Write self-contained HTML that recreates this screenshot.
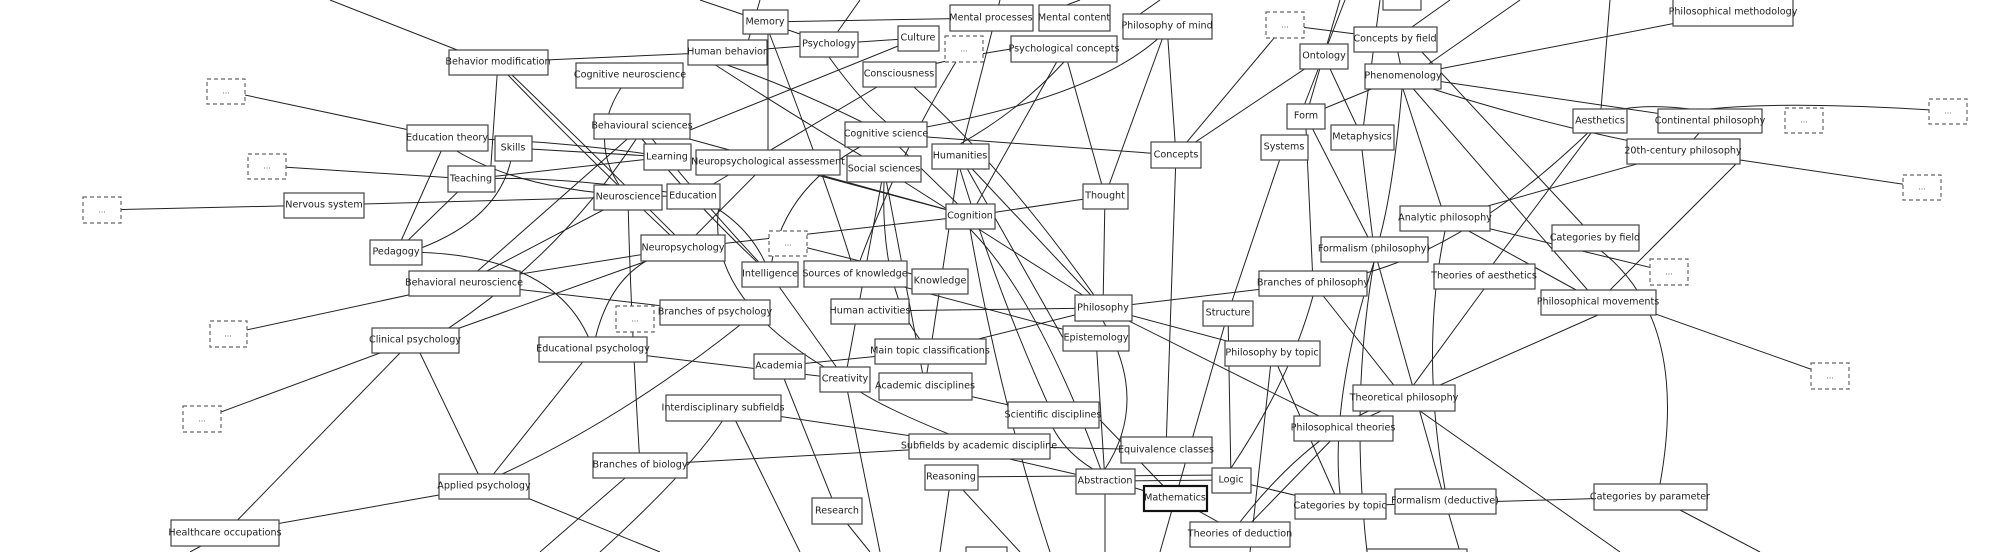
<!DOCTYPE html>
<html><head><meta charset="utf-8"><style>
html,body{margin:0;padding:0;background:#fff;}
svg{display:block}
.e line,.e path{stroke:#222;stroke-width:1;fill:none}
.n rect{fill:#fff;stroke:#444;stroke-width:1.2}
.n text{font-family:"DejaVu Sans","Liberation Sans",sans-serif;font-size:9.6px;fill:#222;text-anchor:middle;dominant-baseline:central}
.d rect{fill:#fff;stroke:#666;stroke-width:1.2;stroke-dasharray:4,3}
.d text{font-family:"DejaVu Sans",sans-serif;font-size:8px;fill:#555;text-anchor:middle;dominant-baseline:central}
</style></head><body>
<svg width="2000" height="552" viewBox="0 0 2000 552" xmlns="http://www.w3.org/2000/svg">
<g class="e">
<line x1="330" y1="0" x2="470" y2="55"/>
<line x1="226" y1="91" x2="447" y2="138"/>
<line x1="267" y1="166" x2="471" y2="179"/>
<line x1="102" y1="210" x2="324" y2="205"/>
<line x1="324" y1="205" x2="628" y2="197"/>
<line x1="498" y1="62" x2="490" y2="179"/>
<path d="M508,75 Q580,150 670,235"/>
<path d="M512,75 Q590,150 680,240"/>
<line x1="727" y1="52" x2="498" y2="62"/>
<line x1="447" y1="138" x2="396" y2="252"/>
<line x1="471" y1="179" x2="396" y2="252"/>
<path d="M513,148 Q505,220 410,252"/>
<line x1="667" y1="157" x2="513" y2="148"/>
<path d="M667,157 Q560,140 447,138"/>
<line x1="667" y1="157" x2="471" y2="179"/>
<path d="M693,196 Q560,175 471,179"/>
<path d="M693,196 Q530,200 447,145"/>
<line x1="628" y1="197" x2="464" y2="283"/>
<line x1="642" y1="126" x2="464" y2="283"/>
<path d="M642,130 Q560,260 430,340"/>
<line x1="464" y1="283" x2="683" y2="248"/>
<line x1="228" y1="334" x2="464" y2="283"/>
<line x1="715" y1="312" x2="464" y2="283"/>
<path d="M396,252 Q560,250 593,349"/>
<line x1="440" y1="335" x2="683" y2="248"/>
<line x1="202" y1="419" x2="380" y2="353"/>
<line x1="225" y1="533" x2="400" y2="353"/>
<line x1="484" y1="486" x2="420" y2="353"/>
<line x1="225" y1="533" x2="439" y2="495"/>
<line x1="484" y1="486" x2="593" y2="349"/>
<path d="M740,325 Q620,420 500,475"/>
<path d="M640,465 Q630,300 628,197"/>
<line x1="540" y1="552" x2="640" y2="465"/>
<path d="M600,552 Q690,470 723,420"/>
<line x1="190" y1="552" x2="225" y2="533"/>
<line x1="660" y1="552" x2="520" y2="495"/>
<path d="M628,197 Q580,140 630,75"/>
<path d="M593,349 Q680,360 845,379"/>
<path d="M593,349 Q610,260 683,248"/>
<line x1="991" y1="18" x2="765" y2="22"/>
<line x1="829" y1="44" x2="727" y2="52"/>
<line x1="829" y1="44" x2="765" y2="22"/>
<line x1="918" y1="38" x2="829" y2="44"/>
<line x1="886" y1="134" x2="1176" y2="155"/>
<line x1="886" y1="134" x2="970" y2="216"/>
<line x1="1105" y1="196" x2="970" y2="216"/>
<line x1="1105" y1="196" x2="1103" y2="308"/>
<line x1="1064" y1="49" x2="1105" y2="196"/>
<line x1="1064" y1="49" x2="970" y2="216"/>
<line x1="960" y1="156" x2="1103" y2="308"/>
<line x1="884" y1="169" x2="1103" y2="308"/>
<line x1="870" y1="311" x2="1103" y2="308"/>
<line x1="1103" y1="308" x2="1313" y2="283"/>
<line x1="1103" y1="308" x2="1272" y2="353"/>
<line x1="1103" y1="308" x2="1343" y2="428"/>
<line x1="1096" y1="338" x2="855" y2="274"/>
<line x1="930" y1="351" x2="1103" y2="308"/>
<line x1="930" y1="351" x2="779" y2="366"/>
<line x1="925" y1="386" x2="1053" y2="415"/>
<line x1="979" y1="446" x2="723" y2="408"/>
<line x1="979" y1="446" x2="640" y2="465"/>
<line x1="1166" y1="450" x2="1176" y2="155"/>
<line x1="1166" y1="450" x2="979" y2="446"/>
<line x1="1105" y1="481" x2="1231" y2="480"/>
<line x1="1105" y1="481" x2="979" y2="452"/>
<line x1="1231" y1="475" x2="951" y2="477"/>
<line x1="1240" y1="534" x2="1175" y2="498"/>
<line x1="1240" y1="534" x2="1343" y2="428"/>
<line x1="1284" y1="147" x2="1228" y2="313"/>
<line x1="1167" y1="26" x2="1176" y2="155"/>
<line x1="1167" y1="26" x2="1105" y2="196"/>
<line x1="837" y1="511" x2="779" y2="366"/>
<line x1="870" y1="552" x2="837" y2="511"/>
<line x1="940" y1="552" x2="951" y2="477"/>
<line x1="1306" y1="116" x2="1374" y2="249"/>
<line x1="1324" y1="56" x2="1176" y2="155"/>
<line x1="1340" y1="506" x2="1231" y2="480"/>
<line x1="1733" y1="12" x2="1403" y2="76"/>
<line x1="1395" y1="39" x2="1403" y2="76"/>
<line x1="1403" y1="76" x2="1710" y2="121"/>
<path d="M1683,151 Q1560,130 1420,85"/>
<line x1="1683" y1="151" x2="1445" y2="218"/>
<line x1="1710" y1="121" x2="1683" y2="151"/>
<path d="M1948,111 Q1780,100 1700,110"/>
<path d="M1710,112 Q1640,100 1600,115"/>
<line x1="1922" y1="187" x2="1740" y2="160"/>
<line x1="1600" y1="121" x2="1484" y2="276"/>
<line x1="1600" y1="121" x2="1610" y2="0"/>
<line x1="1669" y1="272" x2="1445" y2="218"/>
<line x1="1598" y1="302" x2="1445" y2="218"/>
<line x1="1598" y1="302" x2="1410" y2="85"/>
<line x1="1598" y1="302" x2="1740" y2="160"/>
<line x1="1830" y1="376" x2="1650" y2="312"/>
<line x1="1595" y1="238" x2="1420" y2="50"/>
<path d="M1660,484 Q1690,320 1600,250"/>
<line x1="1374" y1="249" x2="1445" y2="501"/>
<path d="M1313,283 Q1450,270 1600,121"/>
<line x1="1313" y1="283" x2="1404" y2="398"/>
<line x1="1343" y1="428" x2="1598" y2="315"/>
<line x1="1404" y1="398" x2="1484" y2="289"/>
<line x1="1650" y1="497" x2="1340" y2="506"/>
<line x1="1760" y1="552" x2="1680" y2="510"/>
<line x1="1620" y1="552" x2="1420" y2="411"/>
<line x1="1362" y1="137" x2="1324" y2="56"/>
<line x1="1374" y1="249" x2="1362" y2="150"/>
<path d="M1403,76 Q1395,180 1380,237"/>
<line x1="1306" y1="116" x2="1403" y2="76"/>
<line x1="1285" y1="25" x2="1176" y2="155"/>
<line x1="1285" y1="25" x2="1395" y2="39"/>
<path d="M770,274 Q700,200 642,126"/>
<path d="M770,274 Q750,220 693,196"/>
<path d="M855,274 Q830,190 765,22"/>
<path d="M855,274 Q900,150 964,49"/>
<line x1="788" y1="243" x2="940" y2="281"/>
<line x1="845" y1="379" x2="770" y2="274"/>
<line x1="845" y1="379" x2="884" y2="169"/>
<line x1="925" y1="386" x2="884" y2="169"/>
<line x1="925" y1="386" x2="960" y2="156"/>
<line x1="970" y1="216" x2="683" y2="248"/>
<line x1="970" y1="216" x2="642" y2="126"/>
<line x1="970" y1="216" x2="768" y2="162"/>
<path d="M970,229 Q1000,400 1050,552"/>
<line x1="768" y1="162" x2="768" y2="22"/>
<line x1="768" y1="162" x2="683" y2="248"/>
<path d="M899,74 Q1000,160 1103,308"/>
<line x1="899" y1="74" x2="693" y2="196"/>
<path d="M886,134 Q1100,100 1167,30"/>
<path d="M884,169 Q800,120 700,55"/>
<line x1="918" y1="38" x2="690" y2="130"/>
<line x1="860" y1="0" x2="829" y2="44"/>
<line x1="700" y1="0" x2="765" y2="22"/>
<line x1="760" y1="0" x2="745" y2="52"/>
<line x1="1000" y1="0" x2="960" y2="156"/>
<line x1="1080" y1="0" x2="1040" y2="15"/>
<line x1="1160" y1="0" x2="1140" y2="14"/>
<line x1="1345" y1="0" x2="1300" y2="116"/>
<line x1="1340" y1="0" x2="1306" y2="116"/>
<line x1="1450" y1="0" x2="1395" y2="39"/>
<line x1="1520" y1="0" x2="1420" y2="70"/>
<line x1="1380" y1="0" x2="1362" y2="137"/>
<line x1="1096" y1="338" x2="1105" y2="481"/>
<line x1="1228" y1="313" x2="1231" y2="480"/>
<line x1="1272" y1="353" x2="1340" y2="506"/>
<line x1="1272" y1="353" x2="1250" y2="552"/>
<line x1="1105" y1="481" x2="1105" y2="552"/>
<line x1="1175" y1="498" x2="1100" y2="420"/>
<line x1="1228" y1="313" x2="1160" y2="552"/>
<line x1="951" y1="477" x2="1020" y2="552"/>
<line x1="723" y1="395" x2="800" y2="552"/>
<line x1="845" y1="379" x2="880" y2="552"/>
<line x1="960" y1="156" x2="1063" y2="338"/>
<line x1="1313" y1="283" x2="1306" y2="129"/>
<line x1="1445" y1="218" x2="1403" y2="89"/>
<path d="M1374,262 Q1350,400 1367,552"/>
<line x1="1445" y1="501" x2="1460" y2="552"/>
<path d="M845,379 Q700,300 720,200"/>
<path d="M886,134 Q780,180 770,274"/>
<path d="M930,351 Q880,300 884,182"/>
<path d="M979,446 Q860,400 845,379"/>
<path d="M1053,415 Q1000,300 960,169"/>
<path d="M1105,481 Q1040,300 970,229"/>
<path d="M1105,469 Q1150,400 1103,321"/>
<path d="M1053,428 Q1080,480 1175,498"/>
<path d="M1231,468 Q1290,380 1313,296"/>
<path d="M1240,522 Q1320,420 1404,398"/>
<path d="M1445,489 Q1420,350 1445,231"/>
<path d="M1340,494 Q1330,400 1374,262"/>
<path d="M642,139 Q700,210 770,274"/>
<path d="M727,65 Q800,90 886,134"/>
<path d="M829,57 Q860,100 886,122"/>
<path d="M1011,49 Q940,60 899,74"/>
<path d="M1064,62 Q1020,110 960,144"/>
</g>
<g class="n">
<rect x="449" y="50" width="99" height="25"/><text x="498" y="62">Behavior modification</text>
<rect x="576" y="63" width="107" height="25"/><text x="630" y="75">Cognitive neuroscience</text>
<rect x="407" y="125" width="81" height="26"/><text x="447" y="138">Education theory</text>
<rect x="495" y="136" width="37" height="25"/><text x="513" y="148">Skills</text>
<rect x="594" y="114" width="96" height="25"/><text x="642" y="126">Behavioural sciences</text>
<rect x="644" y="144" width="47" height="26"/><text x="667" y="157">Learning</text>
<rect x="448" y="166" width="47" height="26"/><text x="471" y="179">Teaching</text>
<rect x="594" y="185" width="68" height="25"/><text x="628" y="197">Neuroscience</text>
<rect x="667" y="184" width="53" height="25"/><text x="693" y="196">Education</text>
<rect x="284" y="193" width="80" height="25"/><text x="324" y="205">Nervous system</text>
<rect x="370" y="240" width="52" height="25"/><text x="396" y="252">Pedagogy</text>
<rect x="641" y="235" width="84" height="26"/><text x="683" y="248">Neuropsychology</text>
<rect x="409" y="271" width="111" height="25"/><text x="464" y="283">Behavioral neuroscience</text>
<rect x="660" y="300" width="110" height="25"/><text x="715" y="312">Branches of psychology</text>
<rect x="372" y="328" width="87" height="25"/><text x="415" y="340">Clinical psychology</text>
<rect x="539" y="337" width="108" height="25"/><text x="593" y="349">Educational psychology</text>
<rect x="666" y="395" width="115" height="26"/><text x="723" y="408">Interdisciplinary subfields</text>
<rect x="593" y="453" width="94" height="25"/><text x="640" y="465">Branches of biology</text>
<rect x="439" y="474" width="90" height="25"/><text x="484" y="486">Applied psychology</text>
<rect x="171" y="520" width="108" height="26"/><text x="225" y="533">Healthcare occupations</text>
<rect x="743" y="10" width="45" height="24"/><text x="765" y="22">Memory</text>
<rect x="950" y="5" width="83" height="26"/><text x="991" y="18">Mental processes</text>
<rect x="1039" y="5" width="71" height="26"/><text x="1074" y="18">Mental content</text>
<rect x="1123" y="14" width="89" height="25"/><text x="1167" y="26">Philosophy of mind</text>
<rect x="688" y="40" width="79" height="25"/><text x="727" y="52">Human behavior</text>
<rect x="800" y="32" width="58" height="25"/><text x="829" y="44">Psychology</text>
<rect x="898" y="26" width="41" height="25"/><text x="918" y="38">Culture</text>
<rect x="1011" y="36" width="106" height="26"/><text x="1064" y="49">Psychological concepts</text>
<rect x="1300" y="44" width="48" height="25"/><text x="1324" y="56">Ontology</text>
<rect x="863" y="62" width="73" height="25"/><text x="899" y="74">Consciousness</text>
<rect x="1287" y="104" width="38" height="25"/><text x="1306" y="116">Form</text>
<rect x="845" y="122" width="82" height="25"/><text x="886" y="134">Cognitive science</text>
<rect x="1261" y="135" width="47" height="25"/><text x="1284" y="147">Systems</text>
<rect x="932" y="144" width="57" height="25"/><text x="960" y="156">Humanities</text>
<rect x="1151" y="142" width="50" height="26"/><text x="1176" y="155">Concepts</text>
<rect x="696" y="150" width="144" height="25"/><text x="768" y="162">Neuropsychological assessment</text>
<rect x="847" y="156" width="74" height="26"/><text x="884" y="169">Social sciences</text>
<rect x="1083" y="184" width="45" height="25"/><text x="1105" y="196">Thought</text>
<rect x="946" y="204" width="49" height="25"/><text x="970" y="216">Cognition</text>
<rect x="742" y="262" width="56" height="25"/><text x="770" y="274">Intelligence</text>
<rect x="804" y="261" width="103" height="26"/><text x="855" y="274">Sources of knowledge</text>
<rect x="912" y="269" width="56" height="25"/><text x="940" y="281">Knowledge</text>
<rect x="1075" y="295" width="57" height="26"/><text x="1103" y="308">Philosophy</text>
<rect x="1203" y="301" width="50" height="25"/><text x="1228" y="313">Structure</text>
<rect x="831" y="299" width="78" height="25"/><text x="870" y="311">Human activities</text>
<rect x="1063" y="326" width="66" height="25"/><text x="1096" y="338">Epistemology</text>
<rect x="1225" y="341" width="95" height="25"/><text x="1272" y="353">Philosophy by topic</text>
<rect x="875" y="339" width="111" height="25"/><text x="930" y="351">Main topic classifications</text>
<rect x="754" y="354" width="51" height="25"/><text x="779" y="366">Academia</text>
<rect x="820" y="367" width="50" height="25"/><text x="845" y="379">Creativity</text>
<rect x="879" y="373" width="93" height="27"/><text x="925" y="386">Academic disciplines</text>
<rect x="1008" y="402" width="91" height="26"/><text x="1053" y="415">Scientific disciplines</text>
<rect x="909" y="434" width="141" height="25"/><text x="979" y="446">Subfields by academic discipline</text>
<rect x="1121" y="437" width="91" height="26"/><text x="1166" y="450">Equivalence classes</text>
<rect x="925" y="465" width="53" height="25"/><text x="951" y="477">Reasoning</text>
<rect x="1076" y="469" width="59" height="25"/><text x="1105" y="481">Abstraction</text>
<rect x="1212" y="468" width="39" height="25"/><text x="1231" y="480">Logic</text>
<rect x="1144" y="486" width="63" height="25" style="stroke-width:2.2;stroke:#111"/><text x="1175" y="498">Mathematics</text>
<rect x="812" y="498" width="50" height="26"/><text x="837" y="511">Research</text>
<rect x="1190" y="522" width="100" height="25"/><text x="1240" y="534">Theories of deduction</text>
<rect x="966" y="547" width="41" height="10"/>
<rect x="1295" y="494" width="91" height="25"/><text x="1340" y="506">Categories by topic</text>
<rect x="1294" y="416" width="99" height="25"/><text x="1343" y="428">Philosophical theories</text>
<rect x="1673" y="-2" width="120" height="28"/><text x="1733" y="12">Philosophical methodology</text>
<rect x="1383" y="-2" width="38" height="12"/>
<rect x="1354" y="27" width="83" height="25"/><text x="1395" y="39">Concepts by field</text>
<rect x="1365" y="64" width="76" height="25"/><text x="1403" y="76">Phenomenology</text>
<rect x="1573" y="109" width="54" height="24"/><text x="1600" y="121">Aesthetics</text>
<rect x="1658" y="109" width="104" height="24"/><text x="1710" y="121">Continental philosophy</text>
<rect x="1331" y="125" width="63" height="25"/><text x="1362" y="137">Metaphysics</text>
<rect x="1627" y="139" width="113" height="25"/><text x="1683" y="151">20th-century philosophy</text>
<rect x="1400" y="206" width="90" height="25"/><text x="1445" y="218">Analytic philosophy</text>
<rect x="1552" y="225" width="87" height="26"/><text x="1595" y="238">Categories by field</text>
<rect x="1321" y="237" width="107" height="25"/><text x="1374" y="249">Formalism (philosophy)</text>
<rect x="1434" y="264" width="101" height="25"/><text x="1484" y="276">Theories of aesthetics</text>
<rect x="1259" y="271" width="108" height="25"/><text x="1313" y="283">Branches of philosophy</text>
<rect x="1541" y="290" width="115" height="25"/><text x="1598" y="302">Philosophical movements</text>
<rect x="1353" y="385" width="102" height="26"/><text x="1404" y="398">Theoretical philosophy</text>
<rect x="1594" y="484" width="113" height="26"/><text x="1650" y="497">Categories by parameter</text>
<rect x="1395" y="489" width="101" height="25"/><text x="1445" y="501">Formalism (deductive)</text>
<rect x="1367" y="549" width="100" height="10"/>
</g>
<g class="d">
<rect x="207" y="79" width="38" height="25"/><text x="226" y="91">...</text>
<rect x="248" y="154" width="38" height="25"/><text x="267" y="166">...</text>
<rect x="83" y="197" width="38" height="26"/><text x="102" y="210">...</text>
<rect x="616" y="306" width="38" height="26"/><text x="635" y="319">...</text>
<rect x="210" y="321" width="37" height="26"/><text x="228" y="334">...</text>
<rect x="183" y="406" width="38" height="26"/><text x="202" y="419">...</text>
<rect x="1266" y="12" width="38" height="26"/><text x="1285" y="25">...</text>
<rect x="945" y="36" width="38" height="26"/><text x="964" y="49">...</text>
<rect x="769" y="231" width="38" height="25"/><text x="788" y="243">...</text>
<rect x="1785" y="108" width="38" height="25"/><text x="1804" y="120">...</text>
<rect x="1929" y="99" width="38" height="25"/><text x="1948" y="111">...</text>
<rect x="1903" y="175" width="38" height="25"/><text x="1922" y="187">...</text>
<rect x="1650" y="259" width="38" height="26"/><text x="1669" y="272">...</text>
<rect x="1811" y="363" width="38" height="26"/><text x="1830" y="376">...</text>
</g>
</svg>
</body></html>
